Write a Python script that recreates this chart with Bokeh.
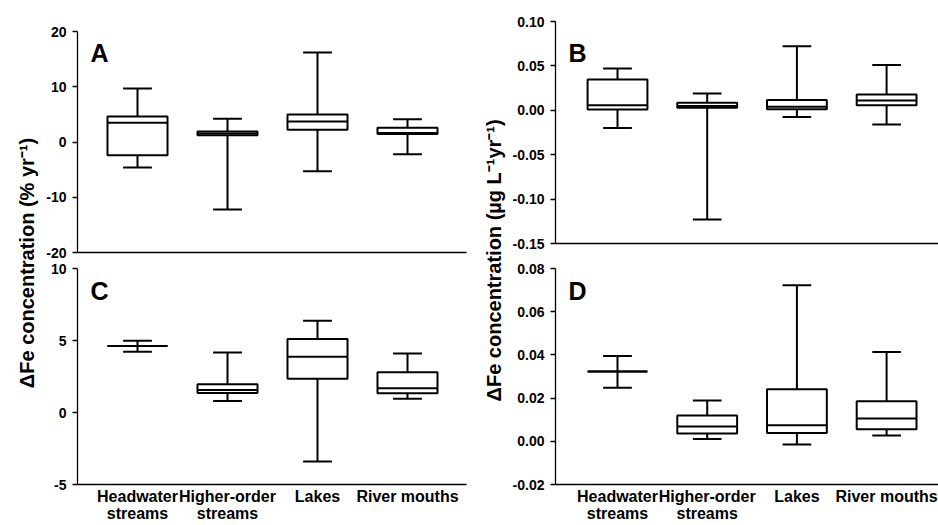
from math import pi
from bokeh.plotting import figure
from bokeh.layouts import row, column
from bokeh.models import Range1d, FixedTicker, Label, ColumnDataSource, PrintfTickFormatter
from bokeh.embed import file_html
from bokeh.resources import INLINE

# ---------------- data ----------------
categories = ["Headwater\nstreams", "Higher-order\nstreams", "Lakes", "River mouths"]
positions = [1, 2, 3, 4]

# Panel A: % yr-1 (lower whisker, Q1, median, Q3, upper whisker)
a_lo = [-4.6, -12.2, -5.3, -2.2]
a_q1 = [-2.4, 1.2, 2.2, 1.45]
a_med = [3.5, 1.55, 3.7, 1.65]
a_q3 = [4.6, 1.9, 5.0, 2.6]
a_hi = [9.7, 4.2, 16.2, 4.1]

# Panel B: ug L-1 yr-1
b_lo = [-0.020, -0.123, -0.0075, -0.016]
b_q1 = [0.0008, 0.003, 0.0011, 0.0056]
b_med = [0.0056, 0.0049, 0.0041, 0.0109]
b_q3 = [0.0346, 0.0086, 0.0117, 0.0177]
b_hi = [0.047, 0.0188, 0.072, 0.051]

# Panel C: % yr-1
c_lo = [4.22, 0.79, -3.40, 0.95]
c_q1 = [4.62, 1.35, 2.34, 1.33]
c_med = [4.62, 1.56, 3.88, 1.69]
c_q3 = [4.62, 1.96, 5.10, 2.80]
c_hi = [4.98, 4.17, 6.38, 4.10]

# Panel D: ug L-1 yr-1
d_lo = [0.0248, 0.0011, -0.0015, 0.0027]
d_q1 = [0.0323, 0.0036, 0.0038, 0.0056]
d_med = [0.0323, 0.0069, 0.0074, 0.0105]
d_q3 = [0.0323, 0.0119, 0.0241, 0.0185]
d_hi = [0.0395, 0.0189, 0.0722, 0.0414]

a_ticks = [-20, -10, 0, 10, 20]
b_ticks = [-0.15, -0.10, -0.05, 0.0, 0.05, 0.10]
c_ticks = [-5, 0, 5, 10]
d_ticks = [-0.02, 0.0, 0.02, 0.04, 0.06, 0.08]

left_label = "ΔFe concentration (% yr⁻¹)"
right_label = "ΔFe concentration (µg L⁻¹yr⁻¹)"

FONT = "Liberation Sans"
BOX_W = 0.667
CAP_W = 0.32


def panel(width, height, borders, xr, yr, ticks, fmt, lo, q1, med, q3, hi,
          letter, letter_dx, letter_dy, show_cats):
    bl, br, bt, bb = borders
    fw = width - bl - br
    fh = height - bt - bb
    p = figure(width=width, height=height, x_range=Range1d(*xr), y_range=Range1d(*yr),
               output_backend="svg", toolbar_location=None,
               min_border_left=bl, min_border_right=br, min_border_top=bt, min_border_bottom=bb)
    p.outline_line_color = None
    p.xgrid.visible = False
    p.ygrid.visible = False
    p.background_fill_color = "white"
    p.border_fill_color = "white"

    src = ColumnDataSource(dict(
        x=positions, lo=lo, q1=q1, med=med, q3=q3, hi=hi,
        xl=[v - BOX_W / 2 for v in positions], xr=[v + BOX_W / 2 for v in positions],
        cl=[v - CAP_W / 2 for v in positions], cr=[v + CAP_W / 2 for v in positions],
    ))
    # whiskers
    p.segment(x0="x", y0="q3", x1="x", y1="hi", source=src, line_color="black", line_width=2)
    p.segment(x0="x", y0="lo", x1="x", y1="q1", source=src, line_color="black", line_width=2)
    p.segment(x0="cl", y0="hi", x1="cr", y1="hi", source=src, line_color="black", line_width=2)
    p.segment(x0="cl", y0="lo", x1="cr", y1="lo", source=src, line_color="black", line_width=2)
    # boxes
    p.vbar(x="x", width=BOX_W, top="q3", bottom="q1", source=src,
           fill_color="white", line_color="black", line_width=2)
    # medians
    p.segment(x0="xl", y0="med", x1="xr", y1="med", source=src, line_color="black", line_width=2)

    # y axis
    ya = p.yaxis[0]
    ya.ticker = FixedTicker(ticks=ticks)
    ya.formatter = PrintfTickFormatter(format=fmt)
    ya.minor_tick_line_color = None
    ya.major_tick_in = 0
    ya.major_tick_out = 5
    ya.major_tick_line_width = 1.3
    ya.axis_line_width = 1.3
    ya.major_label_standoff = 6
    ya.major_label_text_font = FONT
    ya.major_label_text_font_style = "bold"
    ya.major_label_text_font_size = "14px"
    ya.major_label_text_color = "black"

    # x axis
    xa = p.xaxis[0]
    xa.minor_tick_line_color = None
    xa.major_tick_in = 0
    xa.major_tick_out = 0
    xa.axis_line_width = 1.3
    if show_cats:
        xa.ticker = FixedTicker(ticks=positions)
        xa.major_label_overrides = {pos: cat for pos, cat in zip(positions, categories)}
        xa.major_label_standoff = 3
        xa.major_label_text_font = FONT
        xa.major_label_text_font_style = "bold"
        xa.major_label_text_font_size = "16px"
        xa.major_label_text_color = "black"
        xa.major_label_text_line_height = 1.05
    else:
        xa.ticker = FixedTicker(ticks=[])
        xa.major_label_standoff = 0

    # panel letter
    lx = xr[0] + letter_dx * (xr[1] - xr[0]) / fw
    ly = yr[1] - letter_dy * (yr[1] - yr[0]) / fh
    p.add_layout(Label(x=lx, y=ly, text=letter, text_font=FONT, text_font_style="bold",
                       text_font_size="25px", text_align="left", text_baseline="alphabetic",
                       text_color="black"))
    return p


def label_fig(width, text, fx, fy):
    f = figure(width=width, height=525, x_range=Range1d(0, 1), y_range=Range1d(0, 1),
               x_axis_location=None, y_axis_location=None, output_backend="svg",
               toolbar_location=None, min_border=0)
    f.outline_line_color = None
    f.xgrid.visible = False
    f.ygrid.visible = False
    f.add_layout(Label(x=fx, y=fy, text=text, angle=pi / 2, text_align="center",
                       text_baseline="middle", text_font=FONT, text_font_style="bold",
                       text_font_size="20px", text_color="black"))
    return f


LX = (1 - 60 / 90, 1 - 60 / 90 + 389 / 90)
RX = (1 - 62 / 89.7, 1 - 62 / 89.7 + 383 / 89.7)

pA = panel(428, 260, (37, 2, 31, 8), LX, (-20, 20), a_ticks, "%d",
           a_lo, a_q1, a_med, a_q3, a_hi, "A", 13, 21, False)
pC = panel(428, 265, (37, 2, 8, 36), LX, (-5, 10), c_ticks, "%d",
           c_lo, c_q1, c_med, c_q3, c_hi, "C", 13, 23, True)
pB = panel(430, 260, (47, 0, 21, 17), RX, (-0.15, 0.10), b_ticks, "%.2f",
           b_lo, b_q1, b_med, b_q3, b_hi, "B", 13, 31, False)
pD = panel(430, 265, (47, 0, 8, 36), RX, (-0.02, 0.08), d_ticks, "%.2f",
           d_lo, d_q1, d_med, d_q3, d_hi, "D", 13, 23, True)

labL = label_fig(40, left_label, 0.65, 0.5)
labR = label_fig(40, right_label, 0.63, 0.505)

layout = row(labL, column(pA, pC), labR, column(pB, pD))

open("out.html", "w").write(file_html(layout, INLINE))
